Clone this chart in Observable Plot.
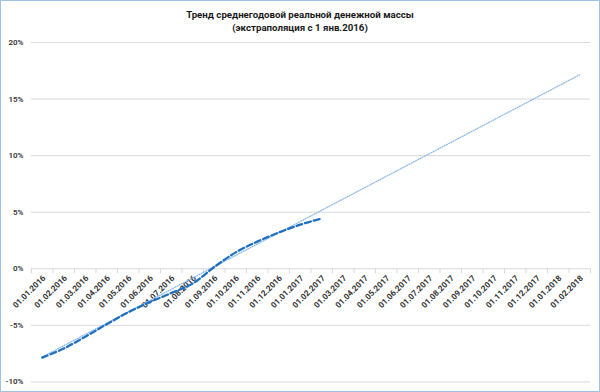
<!DOCTYPE html>
<html><head><meta charset="utf-8">
<script src="https://cdn.jsdelivr.net/npm/d3@7"></script>
<script src="https://cdn.jsdelivr.net/npm/@observablehq/plot@0.6"></script>
<style>
body{margin:0;background:#fff;}
#wrap{position:relative;width:600px;height:392px;box-sizing:border-box;border:1px solid #9fc2e7;overflow:hidden;font-family:Roboto,sans-serif;}
.t{position:absolute;left:0;width:100%;text-align:center;font-weight:bold;font-size:9.7px;color:#1a1a1a;line-height:12px;}
#t1{top:8px} #t2{top:21px}
#chart{position:absolute;left:-1px;top:35px}
</style></head>
<body>
<div id="wrap">
<div class="t" id="t1">Тренд среднегодовой реальной денежной массы</div>
<div class="t" id="t2">(экстраполяция с 1 янв.2016)</div>
<div id="chart"></div>
</div>
<script>
const dates = ["01.01.2016","01.02.2016","01.03.2016","01.04.2016","01.05.2016","01.06.2016","01.07.2016","01.08.2016","01.09.2016","01.10.2016","01.11.2016","01.12.2016","01.01.2017","01.02.2017","01.03.2017","01.04.2017","01.05.2017","01.06.2017","01.07.2017","01.08.2017","01.09.2017","01.10.2017","01.11.2017","01.12.2017","01.01.2018","01.02.2018"];
const actualDates = dates.slice(0, 14);
const actualValues = [-7.85, -7.05, -6.0, -4.9, -3.85, -2.95, -2.15, -1.3, 0.15, 1.45, 2.4, 3.2, 3.9, 4.44];
const trendDates = ["01.01.2016", "01.02.2018"];
const trendValues = [-7.8, 17.15];
const yTicks = [-10, -5, 0, 5, 10, 15, 20];

const pos = d => dates.indexOf(d) + 0.5;
const actual = actualDates.map((d, i) => ({d, v: actualValues[i]}));
const trend = trendDates.map((d, i) => ({d, v: trendValues[i]}));
const bounds = d3.range(dates.length + 1);
const tickShape = {draw(ctx, l) { ctx.moveTo(0, 0); ctx.lineTo(0, -l); }};

const chart = Plot.plot({
  width: 600, height: 356,
  marginLeft: 31, marginRight: 9, marginTop: 6, marginBottom: 10,
  style: {fontFamily: "Roboto, sans-serif", background: "transparent"},
  x: {domain: [0, dates.length], axis: null},
  y: {domain: [-10, 20], axis: null},
  marks: [
    Plot.ruleY(yTicks, {stroke: "#d9d9d9", strokeWidth: 1}),
    Plot.vector(bounds, {x: d => d, y: () => 0, length: 4, rotate: 180, anchor: "start", shape: tickShape, stroke: "#d9d9d9", strokeWidth: 1}),
    Plot.axisY({ticks: yTicks, tickFormat: d => d + "%", tickSize: 0, tickPadding: 8, fontSize: 8, fontWeight: 600, fill: "#333", label: null}),
    Plot.text(dates, {x: d => pos(d), y: () => 0, text: d => d, rotate: -45, textAnchor: "end", dx: 2, dy: 8, fontSize: 8.2, fontWeight: "bold", fill: "#333"}),
    Plot.line(trend, {x: d => pos(d.d), y: "v", stroke: "#8fbbea", strokeWidth: 1.3, strokeDasharray: "1,1.5"}),
    Plot.line(actual, {x: d => pos(d.d), y: "v", stroke: "#1f70c1", strokeWidth: 2.3, strokeDasharray: "6,3", curve: "catmull-rom"})
  ]
});
document.getElementById("chart").appendChild(chart);
</script>
</body></html>
